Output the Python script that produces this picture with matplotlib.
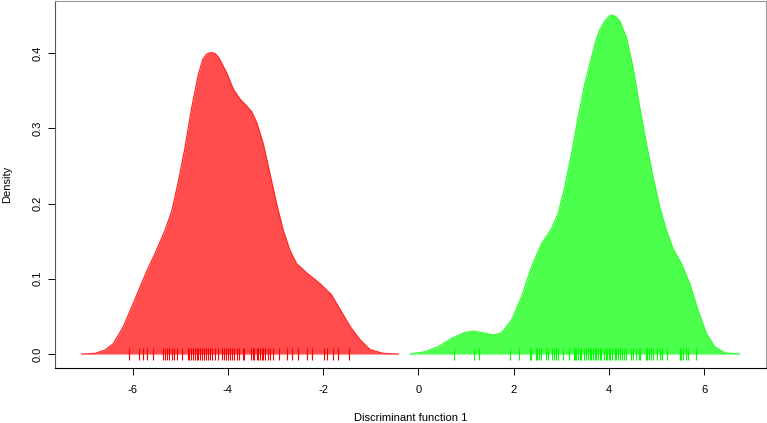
import numpy as np
import matplotlib.pyplot as plt

plt.rcParams['font.family'] = ['Liberation Sans', 'DejaVu Sans']

# density curve of group 1
red_x = [-7.069, -6.789, -6.579, -6.404, -6.195, -5.985, -5.845, -5.705, -5.530, -5.320,
         -5.180, -5.040, -4.900, -4.760, -4.621, -4.523, -4.439, -4.355, -4.271, -4.187,
         -4.026, -3.886, -3.746, -3.620, -3.501, -3.396, -3.256, -3.116, -2.977, -2.837,
         -2.697, -2.557, -2.347, -2.067, -1.826, -1.647, -1.438, -1.228, -1.018, -0.739,
         -0.423]
red_y = [0.0, 0.0009, 0.0053, 0.0139, 0.0364, 0.0675, 0.0887, 0.1099, 0.1334, 0.1642,
         0.1894, 0.2291, 0.2742, 0.3272, 0.3709, 0.3921, 0.3987, 0.4007, 0.3993, 0.3934,
         0.3735, 0.3519, 0.3387, 0.3305, 0.3219, 0.3077, 0.2791, 0.2393, 0.1996, 0.1642,
         0.1377, 0.1201, 0.1079, 0.0936, 0.0788, 0.0596, 0.0371, 0.0192, 0.006, 0.0009,
         0.0]

# density curve of group 2
green_x = [-0.178, 0.136, 0.416, 0.697, 0.976, 1.150, 1.360, 1.570, 1.746, 1.956,
           2.166, 2.376, 2.586, 2.795, 2.934, 3.074, 3.215, 3.354, 3.494, 3.635,
           3.725, 3.809, 3.914, 3.998, 4.061, 4.145, 4.229, 4.369, 4.508, 4.648,
           4.789, 4.928, 5.068, 5.209, 5.347, 5.524, 5.698, 5.872, 6.048, 6.222,
           6.432, 6.747]
green_y = [0.0, 0.003, 0.0097, 0.0208, 0.0287, 0.0305, 0.0282, 0.0252, 0.0282, 0.045,
           0.0759, 0.1156, 0.1466, 0.1665, 0.1864, 0.2216, 0.2658, 0.3143, 0.3585, 0.3938,
           0.4159, 0.4305, 0.4424, 0.4483, 0.4503, 0.4483, 0.4424, 0.4203, 0.3805, 0.3276,
           0.2791, 0.2348, 0.1951, 0.1642, 0.14, 0.1201, 0.0936, 0.0583, 0.0274, 0.0097,
           0.0017, 0.0]

# rug (individual scores)
red_rug = [-6.069, -5.859, -5.789, -5.691, -5.565, -5.369, -5.320, -5.285, -5.229, -5.180,
           -5.124, -5.061, -4.970, -4.844, -4.809, -4.774, -4.739, -4.690, -4.655, -4.621,
           -4.586, -4.550, -4.502, -4.460, -4.411, -4.376, -4.327, -4.271, -4.201, -4.131,
           -4.082, -4.040, -4.005, -3.956, -3.907, -3.865, -3.816, -3.760, -3.690, -3.655,
           -3.522, -3.480, -3.445, -3.396, -3.361, -3.326, -3.291, -3.256, -3.221, -3.152,
           -3.116, -3.060, -2.921, -2.767, -2.662, -2.536, -2.333, -2.228, -1.976, -1.927,
           -1.801, -1.682, -1.452]
green_rug = [0.752, 1.172, 1.277, 1.920, 2.109, 2.340, 2.375, 2.466, 2.494, 2.536,
             2.585, 2.676, 2.725, 2.816, 2.844, 2.900, 2.935, 3.040, 3.165, 3.263,
             3.284, 3.319, 3.354, 3.389, 3.424, 3.473, 3.515, 3.564, 3.599, 3.634,
             3.669, 3.704, 3.739, 3.774, 3.809, 3.844, 3.893, 3.935, 3.963, 4.005,
             4.033, 4.075, 4.124, 4.159, 4.194, 4.229, 4.285, 4.313, 4.355, 4.474,
             4.509, 4.579, 4.635, 4.663, 4.774, 4.802, 4.844, 4.893, 4.928, 5.012,
             5.068, 5.124, 5.222, 5.488, 5.523, 5.558, 5.614, 5.663, 5.838]

x_ticks = [-6, -4, -2, 0, 2, 4, 6]
y_ticks = [0.0, 0.1, 0.2, 0.3, 0.4]

fig = plt.figure(figsize=(7.67, 4.23), dpi=100)
ax = fig.add_axes([55 / 767, 1 - 368 / 423, 711 / 767, 367 / 423])

ax.fill_between(red_x, red_y, color='#ff4c4c', lw=0)
ax.plot(red_x, red_y, color='#ff2a2a', lw=0.9, solid_joinstyle='round')
ax.fill_between(green_x, green_y, color='#4cff4c', lw=0)
ax.plot(green_x, green_y, color='#33ff33', lw=0.9, solid_joinstyle='round')

ax.plot(red_rug, np.zeros(len(red_rug)), '|', color='#ff0000', ms=8, mew=0.8)
ax.plot(green_rug, np.zeros(len(green_rug)), '|', color='#00ff00', ms=8, mew=0.8)

ax.set_xlim(-7.63, 7.30)
ax.set_ylim(-0.0185, 0.469)
ax.set_xticks(x_ticks)
ax.set_xticklabels([str(v) for v in x_ticks])
ax.set_yticks(y_ticks)
ax.set_yticklabels(['%.1f' % v for v in y_ticks], rotation=90, va='center')

ax.tick_params(axis='both', direction='out', length=5, width=0.7, labelsize=8, colors='black')
ax.tick_params(axis='x', pad=7)
ax.tick_params(axis='y', pad=4)

for side in ['top', 'right']:
    ax.spines[side].set_color('#999999')
ax.spines['left'].set_color('#555555')
ax.spines['bottom'].set_color('black')
for s in ax.spines.values():
    s.set_linewidth(0.8)

ax.set_xlabel('Discriminant function 1', fontsize=8)
ax.set_ylabel('Density', fontsize=8)
ax.xaxis.set_label_coords(0.5, -0.136)
ax.xaxis.label.set_va('center')
ax.yaxis.set_label_coords(-0.0675, 0.5)
ax.yaxis.label.set_va('center')

fig.savefig('out.png', dpi=100)
